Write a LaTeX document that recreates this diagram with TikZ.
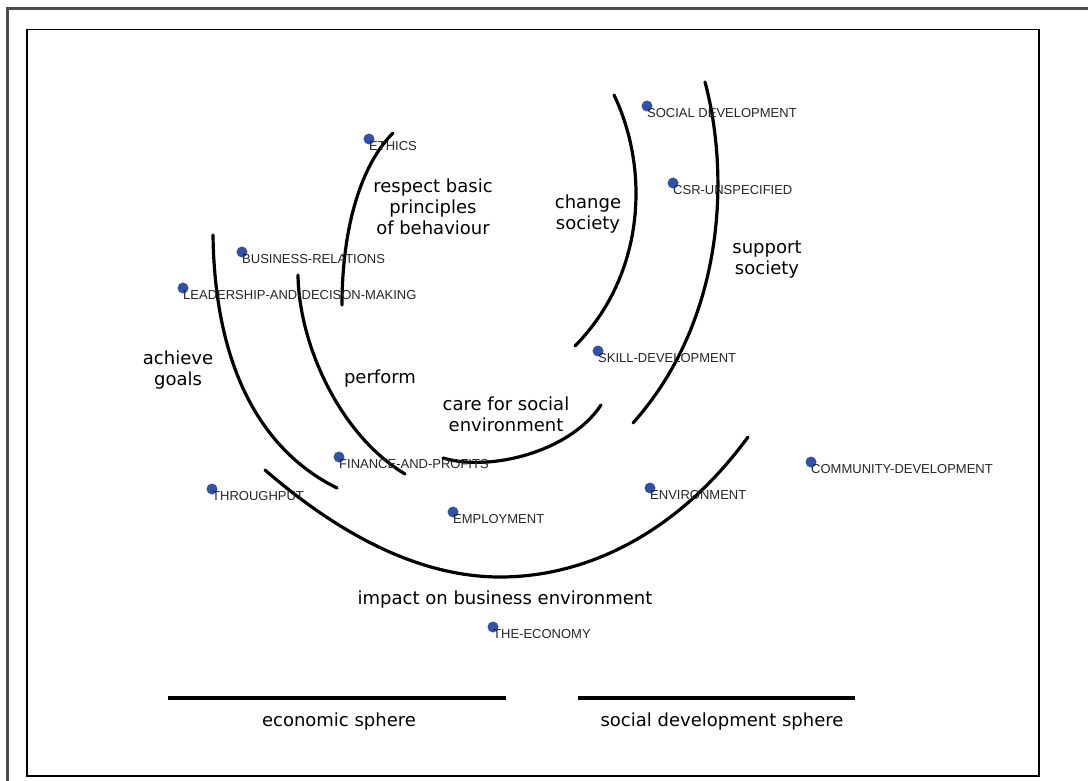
\documentclass[tikz,border=0pt]{standalone}
\usepackage{fontspec}
\setmainfont{DejaVu Sans}
\newfontfamily\tagfont{Liberation Sans}
\usetikzlibrary{positioning}
\definecolor{dotblue}{RGB}{50,82,168}

\begin{document}
\begin{tikzpicture}[x=1pt,y=-1pt,
 arc/.style={line width=3.2pt,line cap=round},
 dot/.style={circle,fill=dotblue,inner sep=0pt,minimum size=11pt},
 tag/.style={font=\tagfont\fontsize{13}{15}\selectfont,text=black!85,inner sep=0pt,anchor=west},
 sphere/.style={font=\fontsize{18}{21}\selectfont,align=center,inner sep=0pt}]
 \useasboundingbox (0,0) rectangle (1088,781);
 \draw[line width=3pt,black!70] (7,781)--(7,9)--(1088,9);
 \draw[line width=1.4pt] (27,29.5) rectangle (1039,776);

 \draw[arc] (393,133) .. controls (358,168) and (342,235) .. (342,305);
 \draw[arc] (298,275) .. controls (299,345) and (340,435) .. (405,474);
 \draw[arc] (213,235) .. controls (215,380) and (270,455) .. (337,488);
 \draw[arc] (265,470) .. controls (340,535) and (420,577) .. (500,577) .. controls (590,577) and (680,530) .. (748,437);
 \draw[arc] (443,458) .. controls (490,472) and (570,452) .. (601,405);
 \draw[arc] (614,95) .. controls (650,170) and (645,275) .. (575,346);
 \draw[arc] (705,82) .. controls (730,175) and (725,320) .. (633,423);

 \node[dot] (ethics) at (369,139) {};
 \node[dot] (socdev) at (647,106) {};
 \node[dot] (csr) at (673,183) {};
 \node[dot] (busrel) at (242,252) {};
 \node[dot] (leader) at (183,288) {};
 \node[dot] (skill) at (598,351) {};
 \node[dot] (finance) at (339,457) {};
 \node[dot] (through) at (212,489) {};
 \node[dot] (employ) at (453,512) {};
 \node[dot] (environ) at (650,488) {};
 \node[dot] (commdev) at (811,462) {};
 \node[dot] (economy) at (493,627) {};

 \node[tag] (ethics-t) at ([yshift=-7.5pt]ethics.center) {ETHICS};
 \node[tag] (socdev-t) at ([yshift=-7.5pt]socdev.center) {SOCIAL DEVELOPMENT};
 \node[tag] (csr-t) at ([yshift=-7.5pt]csr.center) {CSR-UNSPECIFIED};
 \node[tag] (busrel-t) at ([yshift=-7.5pt]busrel.center) {BUSINESS-RELATIONS};
 \node[tag] (leader-t) at ([yshift=-7.5pt]leader.center) {LEADERSHIP-AND-DECISON-MAKING};
 \node[tag] (skill-t) at ([yshift=-7.5pt]skill.center) {SKILL-DEVELOPMENT};
 \node[tag] (finance-t) at ([yshift=-7.5pt]finance.center) {FINANCE-AND-PROFITS};
 \node[tag] (through-t) at ([yshift=-7.5pt]through.center) {THROUGHPUT};
 \node[tag] (employ-t) at ([yshift=-7.5pt]employ.center) {EMPLOYMENT};
 \node[tag] (environ-t) at ([yshift=-7.5pt]environ.center) {ENVIRONMENT};
 \node[tag] (commdev-t) at ([yshift=-7.5pt]commdev.center) {COMMUNITY-DEVELOPMENT};
 \node[tag] (economy-t) at ([yshift=-7.5pt]economy.center) {THE-ECONOMY};

 \node[sphere] (respect) at (433,207) {respect basic\\principles\\of behaviour};
 \node[sphere] (change) at (588,214) {change\\society};
 \node[sphere] (support) at (767,260) {support\\society};
 \node[sphere] (achieve) at (178,370) {achieve\\goals};
 \node[sphere] (perform) at (380,379) {perform};
 \node[sphere] (care) at (506,414) {care for social\\environment};
 \node[sphere] (impact) at (505,600) {impact on business environment};

 \coordinate (eco-a) at (168,698);
 \coordinate (eco-b) at (506,698);
 \coordinate (soc-a) at (578,698);
 \coordinate (soc-b) at (855,698);
 \draw[line width=4pt] (eco-a) -- (eco-b);
 \draw[line width=4pt] (soc-a) -- (soc-b);
 \node[sphere] (ecosph) at (339,722) {economic sphere};
 \node[sphere] (socsph) at (722,722) {social development sphere};
\end{tikzpicture}
\end{document}
